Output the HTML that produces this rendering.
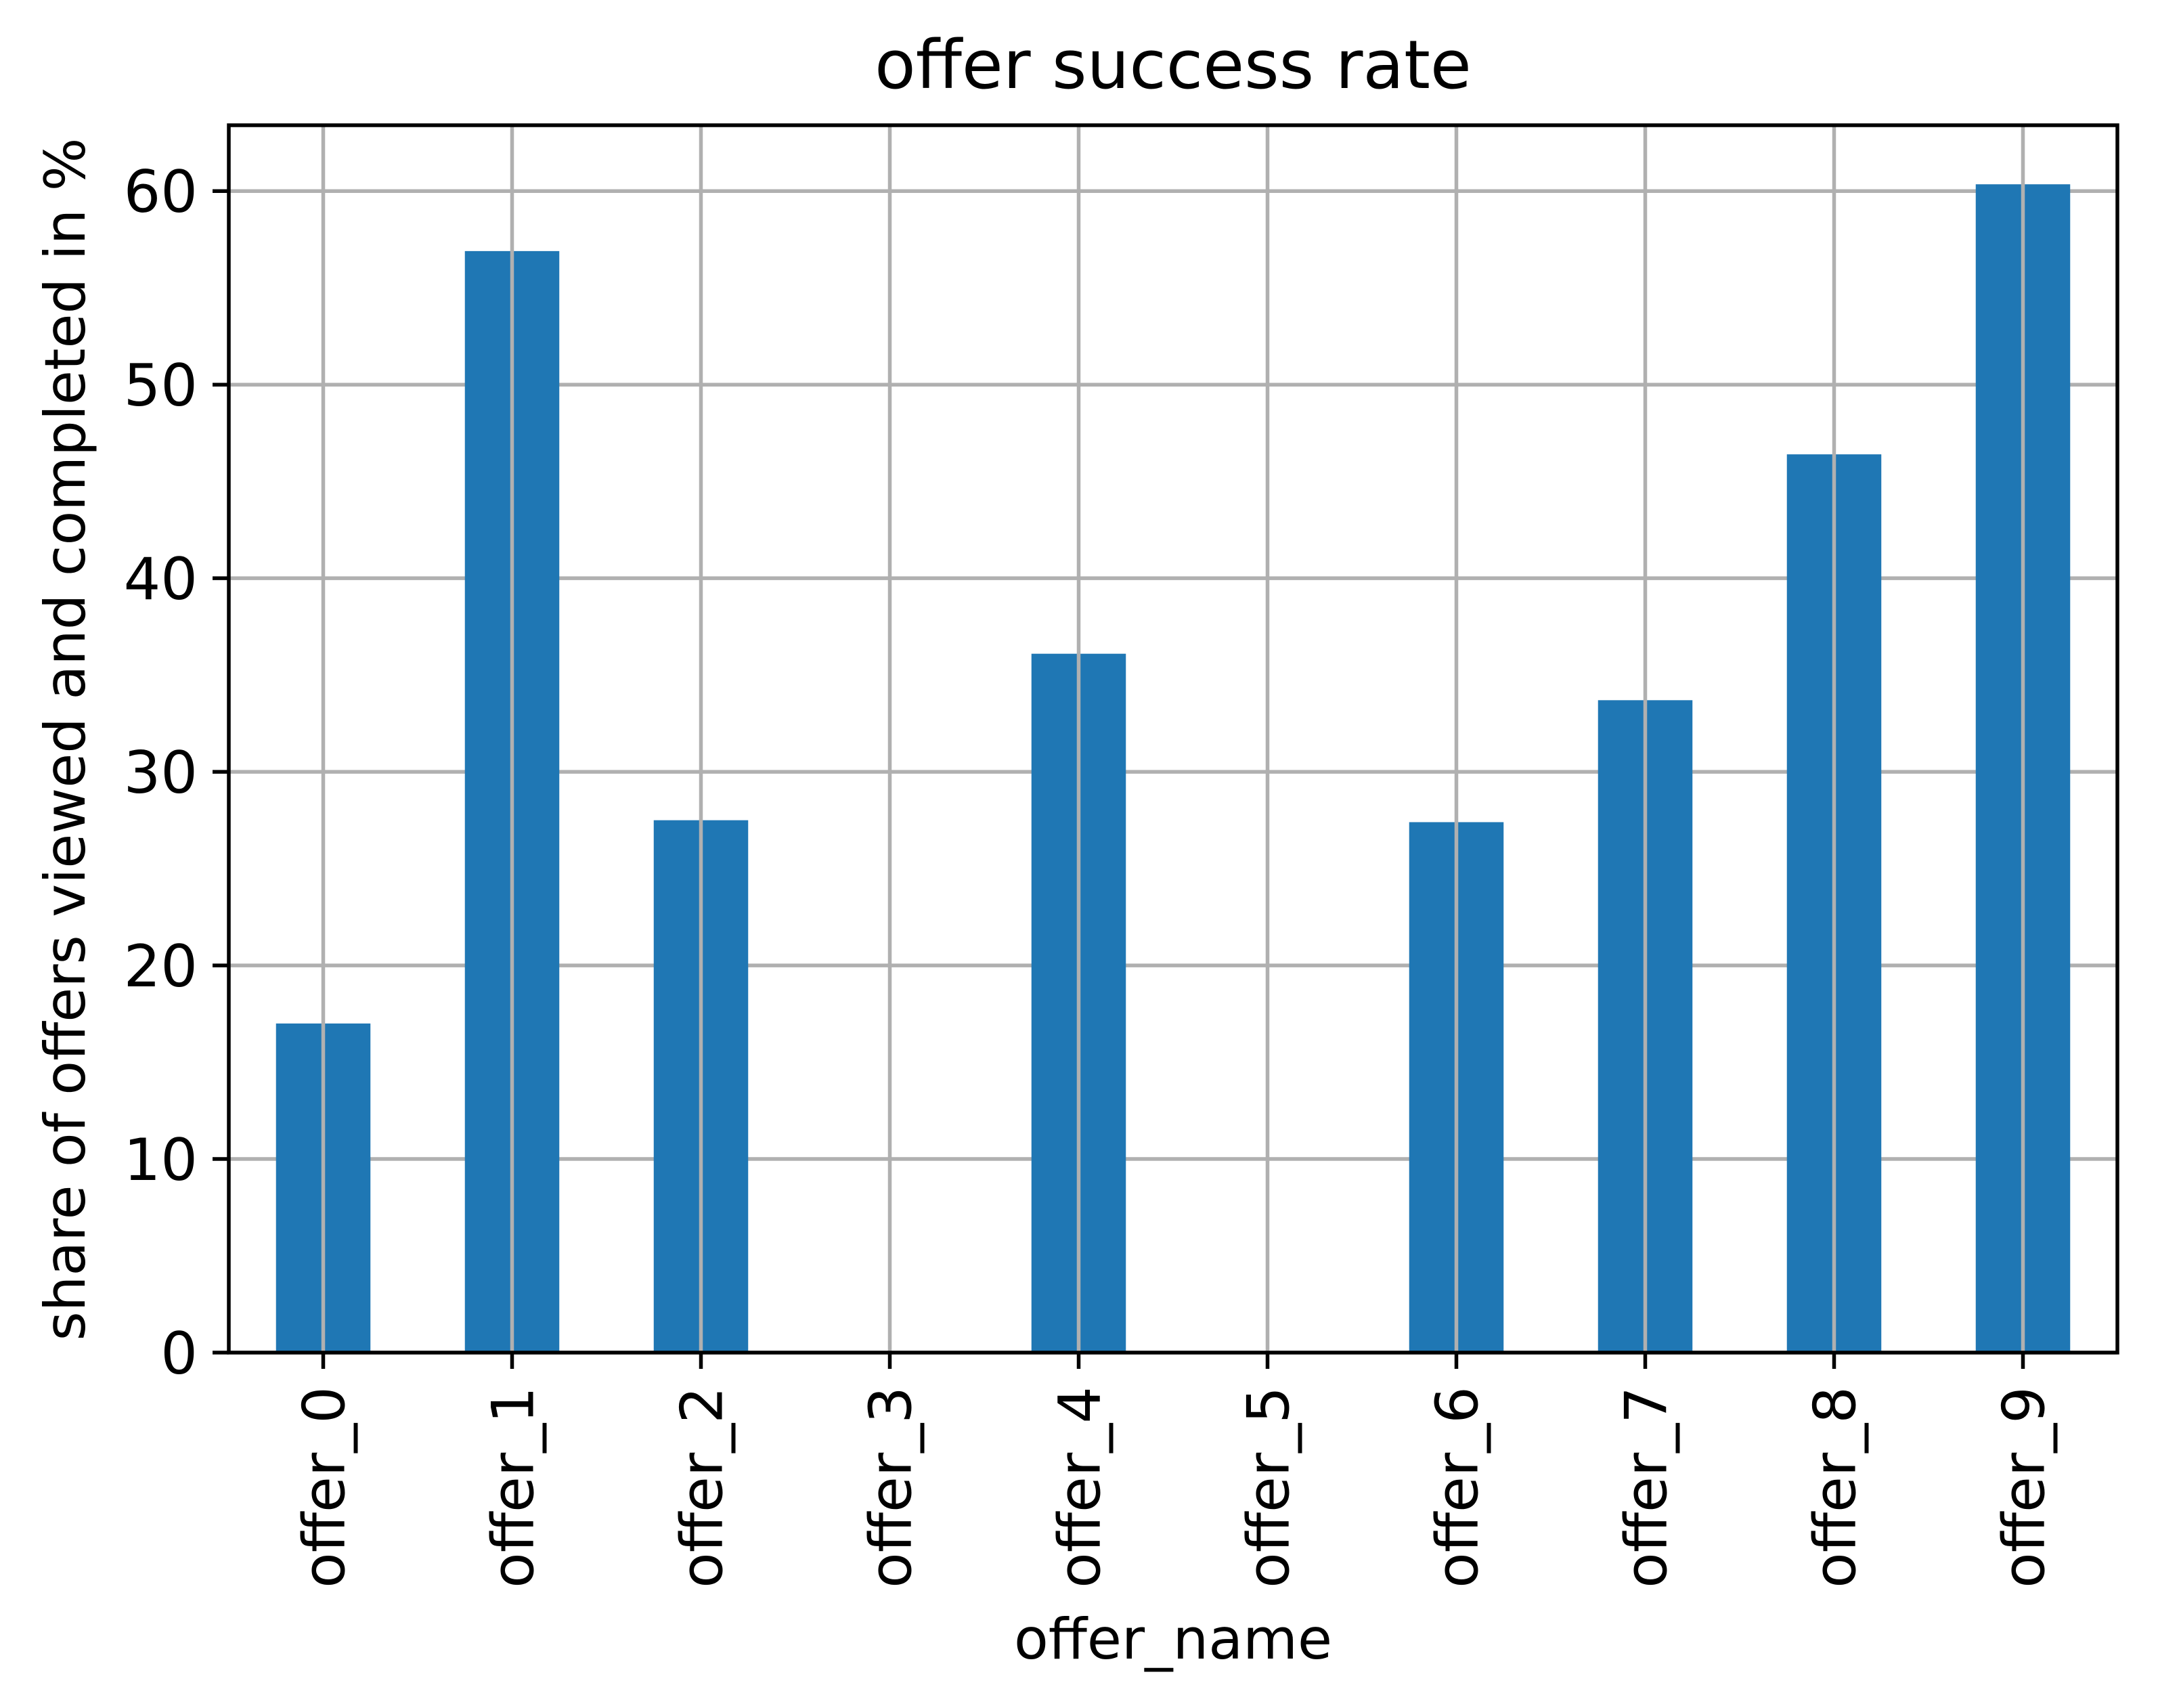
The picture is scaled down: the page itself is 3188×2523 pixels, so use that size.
<!DOCTYPE html>
<html><head><meta charset="utf-8"><style>html,body{margin:0;padding:0;background:#fff}svg{display:block}text{font-family:"DejaVu Sans","Liberation Sans",sans-serif;fill:#000}</style></head>
<body>
<svg id="chart" width="3188" height="2523" viewBox="0 0 3188 2523" xmlns="http://www.w3.org/2000/svg">
<rect width="3188" height="2523" fill="#fff"/>
<g id="grid"></g><g id="bars"></g><g id="axes"></g>
<text x="1733" y="130" font-size="99" text-anchor="middle">offer success rate</text>
<text x="1733" y="2450" font-size="83" text-anchor="middle">offer_name</text>
<text transform="translate(125,1092) rotate(-90)" font-size="83" text-anchor="middle">share of offers viewed and completed in %</text>
</svg>
<script>
const categories = ["offer_0","offer_1","offer_2","offer_3","offer_4","offer_5","offer_6","offer_7","offer_8","offer_9"];
const values = [17.0, 56.9, 27.5, 0, 36.1, 0, 27.4, 33.7, 46.4, 60.35];
const yTicks = [0, 10, 20, 30, 40, 50, 60];
const yTickLabels = ["0","10","20","30","40","50","60"];

const L = 338, R = 3128, T = 185, B = 1998;
const yMax = 63.4;
const step = (R - L) / categories.length;
function xScale(i) { return L + step * (i + 0.5); }
function yScale(v) { return B - (B - T) * v / yMax; }
const NS = "http://www.w3.org/2000/svg";
function mk(tag, attrs, parent) {
  const e = document.createElementNS(NS, tag);
  for (const k in attrs) e.setAttribute(k, attrs[k]);
  parent.appendChild(e); return e;
}
const grid = document.getElementById('grid'), bars = document.getElementById('bars'), axes = document.getElementById('axes');

yTicks.forEach((t, i) => {
  const y = yScale(t);
  const g = mk('line', {x1: L, x2: R, y1: y, y2: y, stroke: '#b0b0b0', 'stroke-width': 5.5}, grid);
  
  
  const tk = mk('line', {x1: L - 24, x2: L, y1: y, y2: y, stroke: '#000', 'stroke-width': 5.5}, axes);
  
  
  const tx = mk('text', {x: L - 46, y: y + 31, 'font-size': 86, 'text-anchor': 'end'}, axes);
  tx.textContent = yTickLabels[i];
  
  
});

categories.forEach((c, i) => {
  const x = xScale(i);
  const v = values[i];
  if (v > 0) {
    const b = mk('rect', {x: x - step * 0.25, y: yScale(v), width: step * 0.5, height: B - yScale(v), fill: '#1f77b4'}, bars);
    
    
  }
  const g = mk('line', {x1: x, x2: x, y1: T, y2: B, stroke: '#b0b0b0', 'stroke-width': 5.5}, bars);
  
  
  const tk = mk('line', {x1: x, x2: x, y1: B, y2: B + 24, stroke: '#000', 'stroke-width': 5.5}, axes);
  
  
  const tx = mk('text', {transform: 'translate(' + (x + 31) + ',' + (B + 50) + ') rotate(-90)', 'font-size': 86, 'text-anchor': 'end'}, axes);
  tx.textContent = c;
  
  
});

const frame = mk('rect', {x: L, y: T, width: R - L, height: B - T, fill: 'none', stroke: '#000', 'stroke-width': 5.5}, axes);


</script>
</body></html>
